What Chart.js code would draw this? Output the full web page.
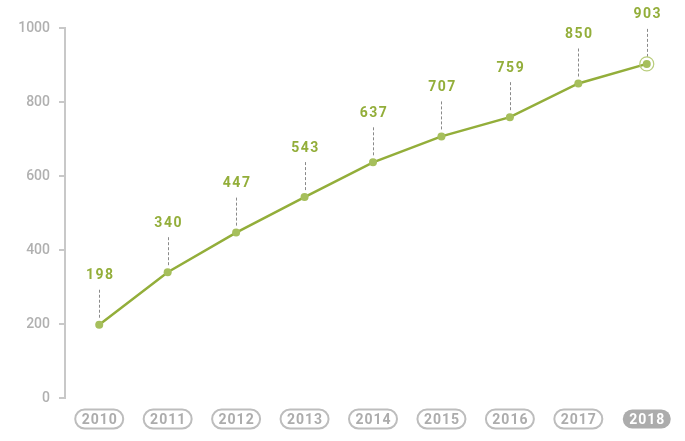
<!DOCTYPE html>
<html>
<head>
<meta charset="utf-8">
<script src="https://cdn.jsdelivr.net/npm/chart.js@4"></script>
<style>
  html, body { margin: 0; padding: 0; background: #fff; }
  #wrap { width: 685px; height: 441px; }
</style>
</head>
<body>
<div id="wrap"><canvas id="lineChart" width="685" height="441"></canvas></div>
<script>
const years = ["2010", "2011", "2012", "2013", "2014", "2015", "2016", "2017", "2018"];
const values = [198, 340, 447, 543, 637, 707, 759, 850, 903];
const yTicks = [0, 200, 400, 600, 800, 1000];

const green = "#93ae3a";
const pointGreen = "#a6bf5c";
const fontFamily = "Roboto, 'Liberation Sans', sans-serif";

// value labels with dashed leader lines + ring on the last point
const valueLabels = {
    id: "valueLabels",
    afterDatasetsDraw(chart) {
        const ctx = chart.ctx;
        const meta = chart.getDatasetMeta(0);
        ctx.save();
        meta.data.forEach((pt, i) => {
            ctx.strokeStyle = "#8a8a8a";
            ctx.lineWidth = 1;
            ctx.setLineDash([3, 2]);
            ctx.beginPath();
            ctx.moveTo(Math.round(pt.x) + 0.5, pt.y - 7);
            ctx.lineTo(Math.round(pt.x) + 0.5, pt.y - 37);
            ctx.stroke();
            ctx.setLineDash([]);
            ctx.fillStyle = green;
            ctx.font = "bold 14px " + fontFamily;
            ctx.textAlign = "center";
            ctx.textBaseline = "middle";
            ctx.letterSpacing = "1.5px";
            ctx.fillText(String(values[i]), pt.x + 1, pt.y - 49);
        });
        const last = meta.data[meta.data.length - 1];
        ctx.strokeStyle = "#b9cd7c";
        ctx.lineWidth = 1.2;
        ctx.beginPath();
        ctx.arc(last.x, last.y, 7, 0, Math.PI * 2);
        ctx.stroke();
        ctx.restore();
    }
};

// pill shaped year labels under the axis
const yearPills = {
    id: "yearPills",
    afterDraw(chart) {
        const ctx = chart.ctx;
        const xs = chart.scales.x;
        const cy = 419, w = 48, h = 19;
        ctx.save();
        years.forEach((yr, i) => {
            const cx = xs.getPixelForValue(i);
            const x0 = cx - w / 2, y0 = cy - h / 2;
            ctx.beginPath();
            ctx.roundRect(x0, y0, w, h, h / 2);
            const isLast = i === years.length - 1;
            if (isLast) {
                ctx.fillStyle = "#acacac";
                ctx.fill();
            } else {
                ctx.strokeStyle = "#bdbdbd";
                ctx.lineWidth = 2;
                ctx.stroke();
            }
            ctx.fillStyle = isLast ? "#ffffff" : "#acacac";
            ctx.font = "bold 14px " + fontFamily;
            ctx.textAlign = "center";
            ctx.textBaseline = "middle";
            ctx.letterSpacing = "1px";
            ctx.fillText(yr, cx + 0.5, cy + 1);
        });
        ctx.restore();
    }
};

new Chart(document.getElementById("lineChart").getContext("2d"), {
    type: "line",
    data: {
        labels: years,
        datasets: [{
            data: values,
            borderColor: green,
            borderWidth: 2.5,
            pointRadius: 4,
            pointBackgroundColor: pointGreen,
            pointBorderColor: pointGreen,
            pointBorderWidth: 0,
            tension: 0,
            fill: false
        }]
    },
    options: {
        responsive: false,
        animation: false,
        layout: { padding: { top: 28, bottom: 43, right: 1, left: 0 } },
        plugins: { legend: { display: false }, tooltip: { enabled: false } },
        scales: {
            x: {
                display: false,
                offset: true
            },
            y: {
                min: 0,
                max: 1000,
                afterFit: scale => { scale.width = 65; },
                afterBuildTicks: scale => { scale.ticks = yTicks.map(v => ({ value: v })); },
                border: { color: "#c8c8c8", width: 2 },
                grid: { drawOnChartArea: false, drawTicks: true, tickLength: 6, color: "#c8c8c8", lineWidth: 2 },
                ticks: {
                    color: "#b0b0b0",
                    padding: 9,
                    callback: v => String(v),
                    font: { family: fontFamily, size: 14, weight: "500" }
                }
            }
        }
    },
    plugins: [valueLabels, yearPills]
});
</script>
</body>
</html>
